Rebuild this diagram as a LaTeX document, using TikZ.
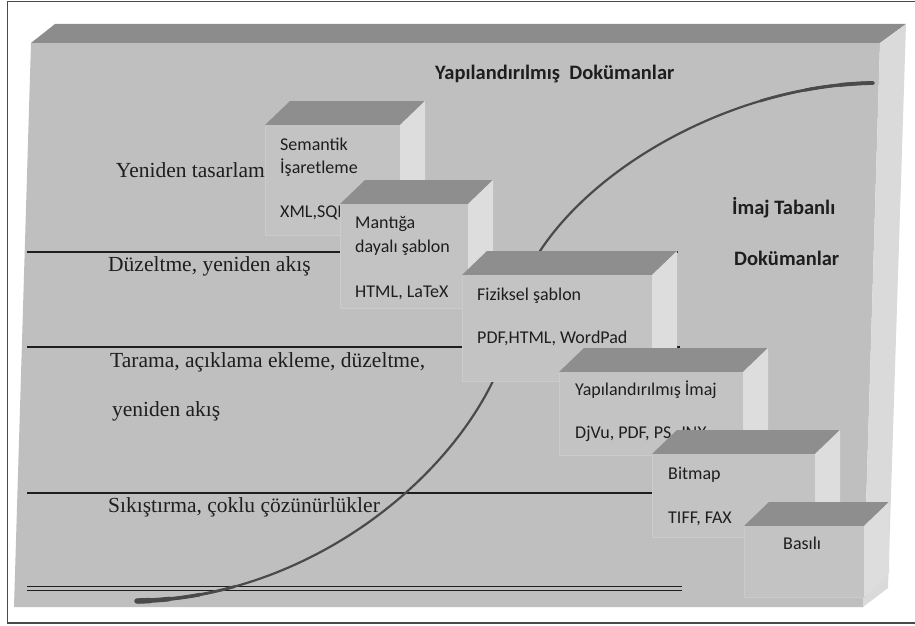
\documentclass[tikz,border=0pt]{standalone}
\usepackage{fontspec}
\setmainfont{Liberation Serif}
\newfontfamily\boxfont{Carlito}
\definecolor{panelfront}{HTML}{BFBFBF}
\definecolor{paneltop}{HTML}{8C8C8C}
\definecolor{panelside}{HTML}{DADADA}
\definecolor{boxfront}{HTML}{C3C3C3}
\definecolor{boxedge}{HTML}{CBCBCB}
\definecolor{boxtop}{HTML}{8E8E8E}
\definecolor{boxside}{HTML}{DDDDDD}
\definecolor{curvecol}{HTML}{4A4A4A}
\definecolor{framecol}{HTML}{4A4A4A}
\definecolor{inkcol}{HTML}{1E1E1E}
\newcommand\docbox[4]{%
  \fill[boxfront, draw=boxedge, line width=0.8] (#1,#2) rectangle (#3,#4);
  \fill[boxtop] (#1,#2) -- (#1+25,#2-24) -- (#3+25,#2-24) -- (#3,#2) -- cycle;
  \fill[boxside] (#3,#2) -- (#3+25,#2-24) -- (#3+25,#4-24) -- (#3,#4) -- cycle;
}
\newcommand\curvepath{(137,601) .. controls (300,598) and (440,490) .. (493,381)
   .. controls (513,340) and (522,270) .. (540,251)
   .. controls (600,160) and (740,85) .. (873,83)}
\newcommand\curvepiece[3]{%
  \begin{scope}
    \clip #1 rectangle #2;
    \draw[curvel, line width=#3] \curvepath;
  \end{scope}}
\begin{document}
\begin{tikzpicture}[x=1pt, y=-1pt,
  lbl/.style={font=\fontsize{21.5}{24}\selectfont, anchor=base west, inner sep=0, text=inkcol},
  btxt/.style={font=\boxfont\fontsize{18}{20}\selectfont, anchor=base west, inner sep=0, text=inkcol},
  head/.style={font=\boxfont\bfseries\fontsize{20.5}{23}\selectfont, anchor=base west, inner sep=0, text=inkcol},
  rulel/.style={draw=inkcol, line width=1.1},
  curvel/.style={draw=curvecol, line cap=round}]
\useasboundingbox (0,0) rectangle (915,626);
\fill[white] (0,0) rectangle (915,626);
% outer frame
\draw[framecol, line width=1.5] (916,1.5) -- (7.5,1.5) -- (7.5,623) -- (916,623);
% big panel
\fill[panelfront] (31,43) -- (880,43) -- (863,607) -- (14,607) -- cycle;
\fill[paneltop] (31,43) -- (55,24) -- (906,24) -- (880,43) -- cycle;
\fill[panelside] (880,43) -- (906,24) -- (888,588) -- (863,607) -- cycle;
% horizontal rules
\coordinate (r1a) at (27,252); \coordinate (r1b) at (678,252);
\coordinate (r2a) at (27,347); \coordinate (r2b) at (680,347);
\coordinate (r3a) at (27,493); \coordinate (r3b) at (680,493);
\coordinate (r4a) at (27,586.5); \coordinate (r4b) at (682,586.5);
\coordinate (r5a) at (27,590.5); \coordinate (r5b) at (682,590.5);
\draw[rulel] (r1a) -- (r1b);
\draw[rulel] (r2a) -- (r2b);
\draw[rulel] (r3a) -- (r3b);
\draw[rulel] (r4a) -- (r4b);
\draw[rulel] (r5a) -- (r5b);
% curve (brush stroke, thicker at the ends)
\draw[curvel, line width=2.2] \curvepath;
\curvepiece{(120,560)}{(235,615)}{2.8}
\curvepiece{(120,560)}{(200,615)}{3.6}
\curvepiece{(120,560)}{(170,615)}{4.6}
\curvepiece{(120,560)}{(150,615)}{5.4}
\curvepiece{(760,60)}{(880,110)}{2.7}
\curvepiece{(805,60)}{(880,110)}{3.2}
\curvepiece{(840,60)}{(880,110)}{3.8}
% headings
\node[head] (h1) at (435,79) {Yapılandırılmış\ \ Dokümanlar};
\node[head] (h2) at (732,214) {İmaj Tabanlı};
\node[head] (h3) at (734,265) {Dokümanlar};
% left labels
\node[lbl, anchor=base east] (l1) at (265,177) {Yeniden tasarlam};
\node[lbl] (l2) at (108,271) {Düzeltme, yeniden akış};
\node[lbl] (l3) at (110,367) {Tarama, açıklama ekleme, düzeltme,};
\node[lbl] (l4) at (112,416) {yeniden akış};
\node[lbl] (l5) at (108,512) {Sıkıştırma, çoklu çözünürlükler};
% boxes
\docbox{265}{125}{400}{235}
\node[btxt] (b1a) at (280,150) {Semantik};
\node[btxt] (b1b) at (280,173) {İşaretleme};
\node[btxt] (b1c) at (280,217) {XML,SQL};
\docbox{340}{204}{468}{308}
\node[btxt] (b2a) at (355,228) {Mantığa};
\node[btxt] (b2b) at (355,252) {dayalı şablon};
\node[btxt] (b2c) at (355,297) {HTML, LaTeX};
\docbox{462}{275}{652}{381}
\node[btxt] (b3a) at (477,300) {Fiziksel şablon};
\node[btxt] (b3b) at (477,343) {PDF,HTML, WordPad};
\docbox{559}{372}{743}{455}
\node[btxt] (b4a) at (575,395) {Yapılandırılmış İmaj};
\node[btxt] (b4b) at (575,438) {DjVu, PDF, PS, JNX};
\docbox{652}{454}{815}{537}
\node[btxt] (b5a) at (668,479) {Bitmap};
\node[btxt] (b5b) at (668,523) {TIFF, FAX};
\docbox{744}{526}{864}{597}
\node[btxt] (b6a) at (783,549) {Basılı};
\end{tikzpicture}
\end{document}
